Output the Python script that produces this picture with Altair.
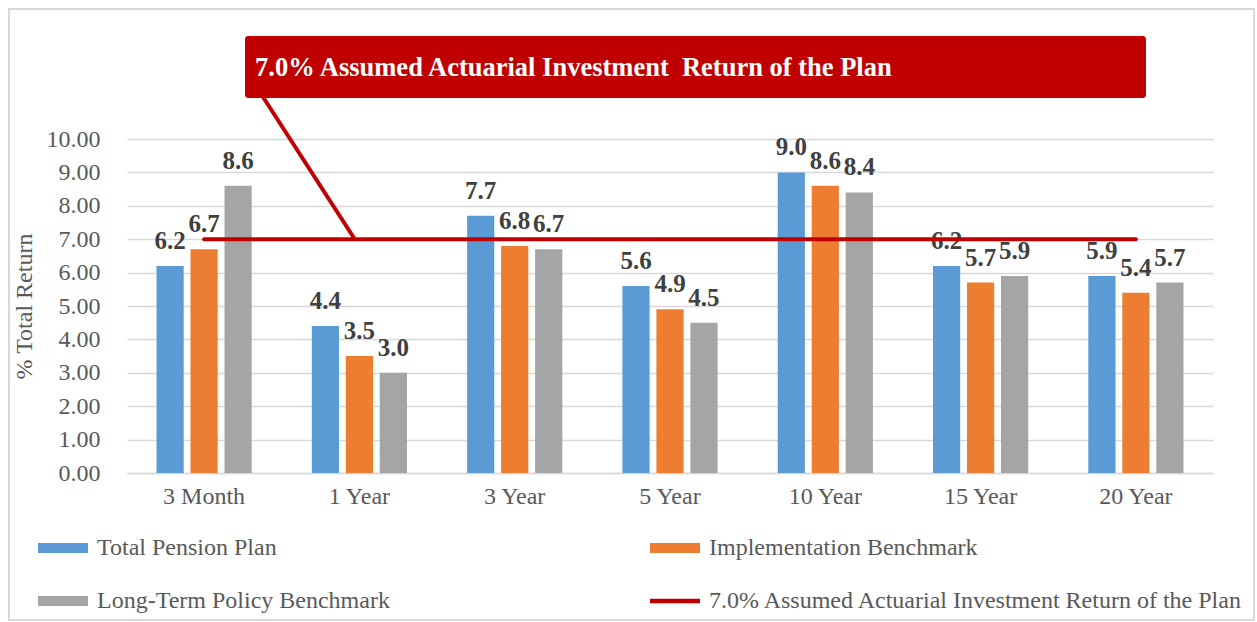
import altair as alt
import pandas as pd

periods = ["3 Month", "1 Year", "3 Year", "5 Year", "10 Year", "15 Year", "20 Year"]
total_pension = [6.2, 4.4, 7.7, 5.6, 9.0, 6.2, 5.9]
implementation = [6.7, 3.5, 6.8, 4.9, 8.6, 5.7, 5.4]
long_term = [8.6, 3.0, 6.7, 4.5, 8.4, 5.9, 5.7]
assumed_return = 7.0

bar_series = ["Total Pension Plan", "Implementation Benchmark", "Long-Term Policy Benchmark"]
line_series = "7.0% Assumed Actuarial Investment Return of the Plan"
# legend order (filled column by column)
legend_series = ["Total Pension Plan", "Long-Term Policy Benchmark",
                 "Implementation Benchmark", line_series]
legend_colors = ["#5b9bd5", "#a5a5a5", "#ed7d31", "#c00000"]
callout_text = "7.0% Assumed Actuarial Investment\u00a0 Return of the Plan"
y_ticks = [0, 1, 2, 3, 4, 5, 6, 7, 8, 9, 10]

rows = []
for s, vals in zip(bar_series, [total_pension, implementation, long_term]):
    for p, v in zip(periods, vals):
        rows.append({"period": p, "series": s, "value": v})
bars_df = pd.DataFrame(rows)
line_df = pd.DataFrame({"period": periods, "series": line_series, "value": assumed_return})
one = pd.DataFrame({"k": [0]})

FONT = "Liberation Serif"
color_scale = alt.Scale(domain=legend_series, range=legend_colors)
bar_path = "M-1,-0.2H1V0.2H-1Z"
line_path = "M-1,-0.09H1V0.09H-1Z"
shape_scale = alt.Scale(domain=legend_series, range=[bar_path, bar_path, bar_path, line_path])
legend = alt.Legend(title=None, orient="none", legendX=-89, legendY=384, columns=2,
                    columnPadding=260, rowPadding=16, labelFontSize=24, labelFont=FONT,
                    labelColor="#595959", labelOffset=9, symbolSize=2500, labelLimit=700,
                    symbolStrokeWidth=0, symbolOpacity=1)

x_enc = alt.X("period:N", sort=periods, title=None,
              scale=alt.Scale(paddingInner=0.387, paddingOuter=0.19),
              axis=alt.Axis(labelAngle=0, labelFontSize=24, labelFont=FONT,
                            labelColor="#595959", labelPadding=11, ticks=False,
                            domainColor="#d9d9d9", domainWidth=1.5))
xoff_enc = alt.XOffset("series:N", sort=bar_series,
                       scale=alt.Scale(paddingInner=0.2, paddingOuter=0))
y_enc = alt.Y("value:Q", title="% Total Return",
              scale=alt.Scale(domain=[0, 10], nice=False),
              axis=alt.Axis(values=y_ticks, tickCount=len(y_ticks) + 5, format=".2f",
                            labelFontSize=24, labelFont=FONT, labelColor="#595959",
                            labelPadding=27, ticks=False, domain=False, labelOverlap=False,
                            gridColor="#d9d9d9", gridWidth=1.5,
                            titleFontSize=24, titleFont=FONT, titleFontWeight="normal",
                            titleColor="#595959", titleX=-103, titleY=167,
                            titleAlign="center", titleBaseline="middle", titleAngle=270))

border = alt.Chart(one).mark_rect(fill=None, stroke="#d9d9d9", strokeWidth=2).encode(
    x=alt.value(-118), x2=alt.value(1127), y=alt.value(-130), y2=alt.value(481))

bars = alt.Chart(bars_df).mark_bar().encode(
    x=x_enc, xOffset=xoff_enc, y=y_enc,
    color=alt.Color("series:N", scale=color_scale, legend=legend))

labels = alt.Chart(bars_df).mark_text(baseline="bottom", dy=-12, fontWeight="bold",
                                      fontSize=25, font=FONT, color="#404040").encode(
    x=x_enc, xOffset=xoff_enc, y=y_enc,
    text=alt.Text("value:Q", format=".1f"))

line = alt.Chart(line_df).mark_line(strokeWidth=4, strokeCap="round").encode(
    x=x_enc, y=y_enc,
    color=alt.Color("series:N", scale=color_scale, legend=legend))

shape_layer = alt.Chart(line_df).transform_filter("false").mark_point(
    filled=True, opacity=1).encode(
    x=x_enc, y=y_enc,
    color=alt.Color("series:N", scale=color_scale, legend=legend),
    shape=alt.Shape("series:N", scale=shape_scale, legend=legend))

pointer = alt.Chart(one).mark_rule(color="#c00000", strokeWidth=4).encode(
    x=alt.value(136), y=alt.value(-42), x2=alt.value(227), y2=alt.value(99))

box = alt.Chart(one).mark_rect(fill="#c00000", cornerRadius=3).encode(
    x=alt.value(118), x2=alt.value(1019), y=alt.value(-103), y2=alt.value(-41))

box_text = alt.Chart(pd.DataFrame({"t": [callout_text]})).mark_text(
    align="left", baseline="middle", fontWeight="bold", fontSize=26.5, font=FONT,
    color="white").encode(x=alt.value(128), y=alt.value(-71), text="t:N")

chart = alt.layer(border, bars, labels, line, shape_layer, pointer, box, box_text).properties(
    width=1086, height=334,
    autosize=alt.AutoSizeParams(type="none"),
    padding={"left": 127, "top": 139, "right": 44, "bottom": 149},
    background="white",
).configure_view(stroke=None).configure_text(font=FONT)

chart.save("out.html", embed_options={"renderer": "svg", "actions": False})
